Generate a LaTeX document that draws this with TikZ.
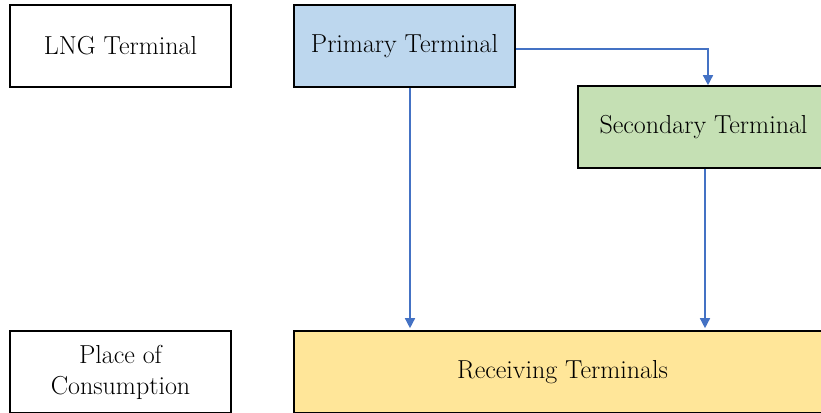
\documentclass[tikz,border=0pt]{standalone}
\usetikzlibrary{arrows.meta}
\definecolor{primblue}{HTML}{BDD7EE}
\definecolor{secgreen}{HTML}{C5E0B4}
\definecolor{recyellow}{HTML}{FFE699}
\definecolor{flowblue}{HTML}{4472C4}
\tikzset{
  box/.style={draw=black, line width=1.6pt, minimum height=82pt, inner sep=2pt,
    align=center, font=\fontsize{26}{31}\selectfont},
  flow/.style={draw=flowblue, line width=1.4pt, -{Triangle[length=10pt,width=10pt]}}
}
\begin{document}
\begin{tikzpicture}[x=1pt,y=-1pt]
\clip (0,0) rectangle (821,412);
% left column
\node[box, minimum width=221pt] (lng) at (120.5,46) {LNG Terminal};
\node[box, minimum width=221pt] (consumption) at (120.5,372) {Place of\\Consumption};
% terminals
\node[box, fill=primblue, minimum width=221pt] (primary) at (404.5,46) {Primary Terminal};
\node[box, fill=secgreen, minimum width=251pt] (secondary) at (703.5,127) {Secondary Terminal};
\node[box, fill=recyellow, minimum width=537pt] (receiving) at (562.5,372) {Receiving Terminals};
% flows
\draw[flow] ([yshift=-3pt]primary.east) -| ([xshift=4.5pt]secondary.north);
\draw[flow] ([xshift=5.5pt]primary.south) -- ([xshift=5.5pt,yshift=2pt]primary.south |- receiving.north);
\draw[flow] ([xshift=1.5pt]secondary.south) -- ([xshift=1.5pt,yshift=2pt]secondary.south |- receiving.north);
\end{tikzpicture}
\end{document}
